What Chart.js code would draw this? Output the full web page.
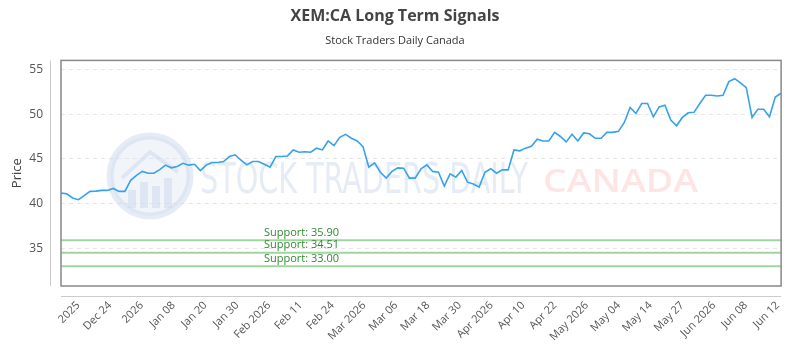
<!DOCTYPE html>
<html>
<head>
<meta charset="utf-8">
<script src="https://cdn.jsdelivr.net/npm/chart.js@4"></script>
<style>
  html, body { margin: 0; padding: 0; background: #fff; }
  #wrap { width: 800px; height: 350px; }
</style>
</head>
<body>
<div id="wrap"><canvas id="chart"></canvas></div>
<script>
// Price series (one value per session)
const prices = [
  41.18, 41.1, 40.63, 40.44, 40.9, 41.37, 41.4, 41.48, 41.48, 41.7, 41.37, 41.37, 42.6, 43.15, 43.6, 43.4,
  43.4, 43.8, 44.3, 44.0, 44.15, 44.5, 44.3, 44.4, 43.7, 44.3, 44.6, 44.6, 44.7, 45.26, 45.45, 44.85,
  44.33, 44.7, 44.7, 44.4, 44.07, 45.26, 45.26, 45.33, 46.0, 45.74, 45.8, 45.74, 46.2, 46.0, 47.0, 46.48,
  47.4, 47.74, 47.3, 47.0, 46.37, 44.07, 44.55, 43.5, 42.85, 43.6, 44.0, 43.96, 42.85, 42.85, 43.9,
  44.33, 43.6, 43.5, 41.96, 43.33, 42.96, 43.7, 42.4, 42.2, 41.85, 43.5, 43.9, 43.4, 43.77, 43.77, 46.0,
  45.9, 46.2, 46.4, 47.2, 47.0, 47.0, 47.96, 47.5, 46.9, 47.74, 47.0, 47.9, 47.8, 47.3, 47.3, 47.96,
  47.96, 48.07, 49.07, 50.74, 50.07, 51.18, 51.18, 49.7, 50.8, 51.0, 49.33, 48.7, 49.63, 50.15, 50.2,
  51.18, 52.1, 52.1, 52.03, 52.1, 53.63, 53.96, 53.5, 52.96, 49.63, 50.55, 50.55, 49.7, 51.9, 52.33
];

const tickLabels = ['2025', 'Dec 24', '2026', 'Jan 08', 'Jan 20', 'Jan 30', 'Feb 2026', 'Feb 11', 'Feb 24',
  'Mar 2026', 'Mar 06', 'Mar 18', 'Mar 30', 'Apr 2026', 'Apr 10', 'Apr 22', 'May 2026', 'May 04',
  'May 14', 'May 27', 'Jun 2026', 'Jun 08', 'Jun 12'];

const supportLevels = [35.90, 34.51, 33.00];

const yTicks = [35, 40, 45, 50, 55];

// label ticks sit evenly between these two index positions
const firstTickAt = 2.95;
const lastTickAt = 123.4;

// watermark, frame, offset axis lines, support levels
const decorPlugin = {
  id: 'decor',
  beforeDatasetsDraw(chart) {
    const { ctx, chartArea: a, scales } = chart;
    ctx.save();
    ctx.beginPath();
    ctx.rect(a.left, a.top, a.right - a.left, a.bottom - a.top);
    ctx.clip();

    // logo
    ctx.beginPath();
    ctx.arc(150, 176, 40, 0, Math.PI * 2);
    ctx.fillStyle = 'rgba(215,225,240,0.35)';
    ctx.fill();
    ctx.lineWidth = 7;
    ctx.strokeStyle = 'rgba(200,212,235,0.45)';
    ctx.stroke();
    ctx.fillStyle = 'rgba(200,212,235,0.45)';
    [[128, 190, 8, 26], [140, 182, 8, 34], [152, 186, 8, 30], [164, 178, 8, 38]].forEach(b => {
      ctx.fillRect(b[0], b[1], b[2], b[3] - 8);
    });
    ctx.beginPath();
    ctx.moveTo(122, 178); ctx.lineTo(150, 152); ctx.lineTo(178, 172);
    ctx.lineWidth = 4;
    ctx.stroke();

    // watermark text
    ctx.textBaseline = 'alphabetic';
    ctx.textAlign = 'left';
    ctx.font = '43px "DejaVu Sans Condensed", "DejaVu Sans"';
    let txt = 'STOCK TRADERS DAILY';
    let w = ctx.measureText(txt).width;
    ctx.save();
    ctx.translate(200, 193);
    ctx.scale(328 / w, 1);
    ctx.fillStyle = 'rgba(222,231,243,0.8)';
    ctx.fillText(txt, 0, 0);
    ctx.restore();

    ctx.font = '600 33px "Open Sans"';
    txt = 'CANADA';
    w = ctx.measureText(txt).width;
    ctx.save();
    ctx.translate(543, 192);
    ctx.scale(155 / w, 1);
    ctx.fillStyle = 'rgba(252,222,222,0.8)';
    ctx.fillText(txt, 0, 0);
    ctx.restore();

    // support levels
    const y = scales.y;
    ctx.font = '11px "Open Sans"';
    ctx.textBaseline = 'middle';
    supportLevels.forEach(lv => {
      const py = y.getPixelForValue(lv);
      ctx.beginPath();
      ctx.moveTo(a.left, py);
      ctx.lineTo(a.right, py);
      ctx.lineWidth = 2;
      ctx.strokeStyle = 'rgba(120,195,120,0.7)';
      ctx.stroke();
      ctx.fillStyle = '#2f8a2f';
      ctx.fillText('Support: ' + lv.toFixed(2), a.left + 203, py - 7.5);
    });
    ctx.restore();
  },
  afterDraw(chart) {
    const { ctx, chartArea: a } = chart;
    ctx.save();
    ctx.strokeStyle = '#888';
    ctx.lineWidth = 1.5;
    ctx.strokeRect(a.left, a.top, a.right - a.left, a.bottom - a.top);
    ctx.strokeStyle = '#ccc';
    ctx.lineWidth = 1;
    ctx.beginPath();
    ctx.moveTo(a.left - 10.5, a.top);
    ctx.lineTo(a.left - 10.5, a.bottom);
    ctx.moveTo(a.left, a.bottom + 10.5);
    ctx.lineTo(a.right, a.bottom + 10.5);
    ctx.stroke();
    ctx.restore();
  }
};

const ctx = document.getElementById('chart').getContext('2d');
const chart = new Chart(ctx, {
  type: 'line',
  data: {
    datasets: [{
      label: 'Price',
      data: prices.map((p, i) => ({ x: i, y: p })),
      borderColor: '#36a2eb',
      borderWidth: 1.6,
      pointRadius: 0,
      tension: 0,
      fill: false
    }]
  },
  options: {
    responsive: true,
    maintainAspectRatio: false,
    animation: false,
    layout: { padding: { left: 0, right: 10, top: 0, bottom: 0 } },
    plugins: {
      legend: { display: false },
      tooltip: { enabled: false },
      title: {
        display: true,
        text: 'XEM:CA Long Term Signals',
        color: '#444',
        font: { family: 'Open Sans', size: 16, weight: 'bold' },
        padding: { top: 7, bottom: 8 }
      },
      subtitle: {
        display: true,
        text: 'Stock Traders Daily Canada',
        color: '#333',
        font: { family: 'Open Sans', size: 11 },
        padding: { top: 0, bottom: 13 }
      }
    },
    scales: {
      x: {
        type: 'linear',
        min: 0,
        max: prices.length - 1,
        grid: { display: false, drawTicks: false },
        border: { display: false },
        afterBuildTicks(scale) {
          const step = (lastTickAt - firstTickAt) / (tickLabels.length - 1);
          scale.ticks = tickLabels.map((t, i) => ({ value: firstTickAt + i * step }));
        },
        afterFit(scale) { scale.height = 64; },
        ticks: {
          autoSkip: false,
          minRotation: 45,
          maxRotation: 45,
          padding: 13,
          color: '#555',
          font: { family: 'Open Sans', size: 11 },
          callback: (v, i) => tickLabels[i]
        }
      },
      y: {
        min: 30.8,
        max: 56,
        afterBuildTicks(scale) {
          scale.ticks = yTicks.map(v => ({ value: v }));
        },
        afterFit(scale) { scale.width = 61; },
        grid: { color: '#e6e6e6', drawTicks: false },
        border: { display: false, dash: [4, 4] },
        ticks: {
          padding: 18,
          color: '#555',
          font: { family: 'Open Sans', size: 12 }
        },
        title: {
          display: true,
          text: 'Price',
          color: '#444',
          font: { family: 'Open Sans', size: 13 },
          padding: { top: 9, bottom: 0 }
        }
      }
    }
  },
  plugins: [decorPlugin]
});
</script>
</body>
</html>
